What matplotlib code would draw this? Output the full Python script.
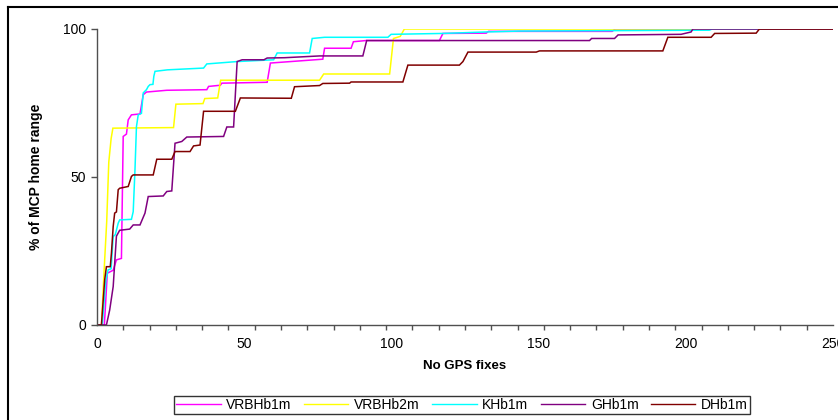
import numpy as np
import matplotlib
matplotlib.use("Agg")
import matplotlib.pyplot as plt
from matplotlib.lines import Line2D

plt.rcParams['font.family'] = ['Liberation Sans', 'DejaVu Sans']

series_names = ["VRBHb1m", "VRBHb2m", "KHb1m", "GHb1m", "DHb1m"]
series_colors = ["#FF00FF", "#FFFF00", "#00FFFF", "#800080", "#800000"]

vrbhb1m_x = [0, 2.5, 3.5, 5.5, 6.6, 8.3, 8.9, 10.0, 10.6, 11.7, 14.6, 15.7, 16.8, 23.7, 37.3, 37.9, 41.9, 42.4,
             57.8, 58.9, 69.9, 76.7, 77.3, 86.3, 87.1, 91.4, 116.3, 117.5, 132.2, 133, 175, 176, 250]
vrbhb1m_y = [0, 0, 17.5, 18.5, 22, 22.5, 63.7, 64.5, 69.3, 71, 71.3, 77.8, 78.7, 79.3, 79.5, 80.6, 81, 81.7,
             82, 88.5, 89.3, 89.8, 93.5, 93.5, 95.7, 96.1, 96.1, 98.5, 98.6, 99.2, 99.2, 100, 100]

vrbhb2m_x = [0, 1.5, 2.5, 3.3, 4.0, 4.8, 5.4, 26.0, 26.8, 36.0, 36.6, 41.0, 42.0, 75.6, 77.0, 99.4, 100.7, 103,
             104.4, 250]
vrbhb2m_y = [0, 0, 20, 35, 55, 63, 66.5, 66.7, 74.6, 74.8, 76.5, 76.7, 82.7, 82.7, 84.8, 84.8, 96.8, 97.5,
             100, 100]

khb1m_x = [0, 1.8, 3.0, 3.75, 4.8, 5.5, 6.2, 7.2, 7.7, 11.7, 12.3, 12.9, 13.4, 14.0, 15.1, 15.7, 16.8, 17.4, 18,
           19.0, 19.3, 19.7, 23.9, 36.2, 37.3, 47.6, 60, 61.2, 72.2, 73.1, 77.3, 98.8, 99.9, 117.5, 132.2, 143.5,
           208, 209, 250]
khb1m_y = [0, 0, 15, 18.6, 19, 29.9, 30.5, 34.4, 35.5, 35.7, 38.3, 52.4, 67, 71, 71.5, 78.4, 79.5, 80.6, 81.2,
           81.3, 84, 85.7, 86.2, 86.8, 88.2, 89, 89.6, 91.9, 91.9, 96.8, 97.2, 97.2, 98.2, 98.5, 99, 99.3,
           99.6, 100, 100]

ghb1m_x = [0, 3.2, 4.3, 5.5, 6.6, 7.7, 11.1, 12.3, 14.6, 16.3, 17.4, 22.5, 23.7, 25.4, 26.5, 28.8, 30.5, 43,
           44.1, 46.4, 47.6, 49.3, 56.7, 57.8, 63.7, 75.6, 90.3, 91.6, 167.3, 168, 175.8, 177, 198.4, 201.8,
           202.4, 250]
ghb1m_y = [0, 0, 5, 13, 30, 32, 32.4, 33.8, 33.8, 37.8, 43.4, 43.6, 45.1, 45.3, 61.4, 62, 63.5, 63.7,
           66.9, 66.9, 89, 89.6, 89.6, 90.2, 90.3, 90.9, 90.9, 96.1, 96.1, 96.8, 96.8, 98, 98.2, 99,
           100, 100]

dhb1m_x = [0, 1.5, 2.6, 3.2, 4.5, 4.9, 5.5, 6.0, 6.6, 7.2, 7.7, 10.6, 11.7, 12.3, 19.1, 20.3, 25.4, 26.5, 31.6,
           32.8, 35, 36.2, 47, 48.7, 66, 67.1, 75.6, 76.7, 85.8, 86.3, 103.9, 105.6, 123.1, 124.3, 126, 149.2,
           150.3, 192.2, 193.9, 208.6, 209.8, 223.9, 225, 250]
dhb1m_y = [0, 0, 15.2, 19.7, 19.7, 24.2, 33.3, 37.8, 38.2, 45.7, 46.2, 46.8, 50.2, 50.7, 50.7, 56, 56, 58.6, 58.6,
           60.5, 60.8, 72.2, 72.2, 76.7, 76.6, 80.5, 80.9, 81.6, 81.7, 82.1, 82.1, 87.8, 87.8, 89, 92.2, 92.2,
           92.6, 92.6, 97.2, 97.2, 98.5, 98.6, 100, 100]

series_x = [vrbhb1m_x, vrbhb2m_x, khb1m_x, ghb1m_x, dhb1m_x]
series_y = [vrbhb1m_y, vrbhb2m_y, khb1m_y, ghb1m_y, dhb1m_y]

x_ticks = [0, 50, 100, 150, 200, 250]
y_ticks = [0, 50, 100]

fig = plt.figure(figsize=(8.38, 4.20), dpi=100)
ax = fig.add_axes([97 / 838, 1 - 325 / 420, 736 / 838, 296 / 420])

for xs, ys, c, name in zip(series_x, series_y, series_colors, series_names):
    ax.plot(xs, ys, color=c, lw=1.1, label=name, solid_joinstyle='miter')

ax.set_xlim(0, 250)
ax.set_ylim(0, 100)
for s in ['top', 'right']:
    ax.spines[s].set_visible(False)
for s in ['left', 'bottom']:
    ax.spines[s].set_color('#505050')
    ax.spines[s].set_linewidth(1.0)

ax.set_xticks(x_ticks)
ax.set_xticklabels([str(v) for v in x_ticks])
ax.set_xticks(np.linspace(0, 250, 29), minor=True)
ax.tick_params(axis='x', which='major', length=0, pad=9, labelsize=10)
ax.tick_params(axis='x', which='minor', length=3.5, direction='out', color='#505050', width=1)
ax.set_yticks(y_ticks)
ax.set_yticklabels([str(v) for v in y_ticks])
ax.tick_params(axis='y', which='major', length=4, direction='out', color='#505050', width=1, labelsize=10, pad=4)

ax.set_xlabel("No GPS fixes", fontsize=9.5, fontweight='bold', labelpad=6)
ax.set_ylabel("% of MCP home range", fontsize=10, fontweight='bold', labelpad=14)

handles = [Line2D([0], [0], color=c, lw=1.0) for c in series_colors]
leg = fig.legend(handles, series_names, loc='center', bbox_to_anchor=(462 / 838, 1 - 405 / 420),
                 ncol=5, fontsize=10, frameon=True, fancybox=False, handlelength=3.2,
                 handletextpad=0.4, columnspacing=0.9, borderpad=0.15, borderaxespad=0)
leg.get_frame().set_edgecolor('black')
leg.get_frame().set_linewidth(1.0)

# chart-area border (left and top edges visible)
fig.add_artist(Line2D([7.5 / 838, 7.5 / 838], [0, 1 - 7 / 420], transform=fig.transFigure, color='black', lw=1.5))
fig.add_artist(Line2D([7.5 / 838, 1], [1 - 7 / 420, 1 - 7 / 420], transform=fig.transFigure, color='black', lw=1.5))

fig.savefig("out.png", dpi=100)
